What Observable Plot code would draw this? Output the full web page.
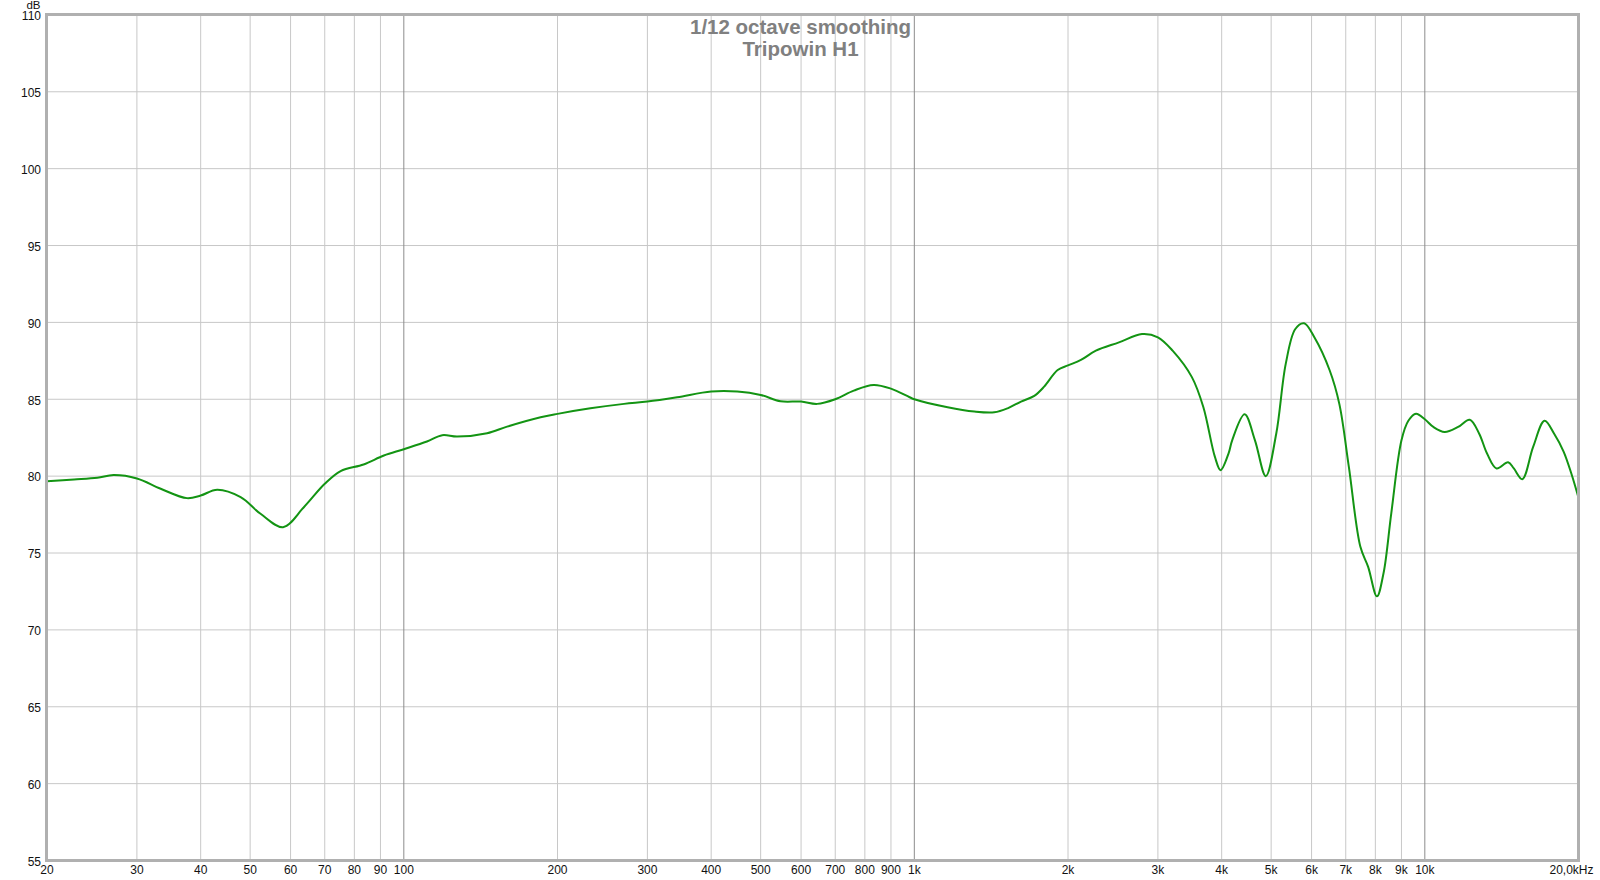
<!DOCTYPE html>
<html>
<head>
<meta charset="utf-8">
<script src="https://cdn.jsdelivr.net/npm/d3@7"></script>
<script src="https://cdn.jsdelivr.net/npm/@observablehq/plot@0.6"></script>
<style>
  html, body { margin: 0; padding: 0; background: #fff; }
  #chart svg { display: block; }
</style>
</head>
<body>
<div id="chart"></div>
<script>
// ---- Data ----
const titleLines = ["1/12 octave smoothing", "Tripowin H1"];
const yUnit = "dB";

const freqs = [20, 22.6, 25.1, 27.0, 30, 33.4, 37.6, 40, 43.1, 47.9, 52.4, 58.0, 63.7, 70, 75.2, 83.4, 91.4,
  100, 111, 118.9, 127.2, 145.6, 159.3, 185.3, 200, 232, 270, 300, 343, 400, 450, 500, 547, 600, 645, 700, 761, 832, 900, 979,
  1000, 1162, 1311, 1434, 1523, 1618, 1718, 1796, 1909, 2000, 2120, 2268, 2517, 2792, 3000, 3206, 3497, 3682, 3880, 3980, 4128, 4194,
  4436, 4648, 4880, 5116, 5340, 5576, 5801, 6076, 6512, 6800, 7099, 7478, 7744, 8058, 8302, 8597, 9000, 9284, 9610,
  10000, 10392, 10936, 11620, 12246, 12780, 13240, 13820, 14560, 14940, 15520, 16300, 17160, 17920, 18700, 19350, 20000];
const spl = [79.67, 79.78, 79.89, 80.07, 79.85, 79.18, 78.57, 78.74, 79.11, 78.63, 77.55, 76.68, 77.98, 79.5, 80.33, 80.76, 81.34,
  81.75, 82.25, 82.66, 82.57, 82.79, 83.22, 83.83, 84.05, 84.41, 84.70, 84.85, 85.13, 85.5, 85.5, 85.28, 84.87, 84.85, 84.70, 85.0, 85.56, 85.93, 85.69, 85.13,
  85.0, 84.48, 84.2, 84.15, 84.41, 84.85, 85.22, 85.82, 86.9, 87.2, 87.56, 88.16, 88.7, 89.24, 89.03, 88.16, 86.44, 84.5, 81.25, 80.39, 81.5, 82.33,
  84.02, 82.33, 80.0, 82.76, 87.3, 89.57, 89.94, 89.03, 86.87, 84.7, 80.6, 75.4, 74.1, 72.18, 73.7, 77.6, 82.33, 83.6, 84.06,
  83.7, 83.2, 82.87, 83.2, 83.67, 82.76, 81.47, 80.5, 80.9, 80.5, 79.8, 81.9, 83.6, 82.76, 81.6, 80.2, 78.6];

const xTicks = [20, 30, 40, 50, 60, 70, 80, 90, 100, 200, 300, 400, 500, 600, 700, 800, 900,
  1000, 2000, 3000, 4000, 5000, 6000, 7000, 8000, 9000, 10000];
const xTickLabels = ["20", "30", "40", "50", "60", "70", "80", "90", "100", "200", "300", "400", "500", "600", "700", "800", "900",
  "1k", "2k", "3k", "4k", "5k", "6k", "7k", "8k", "9k", "10k"];
const xEndTick = 20000;
const xEndLabel = "20,0kHz";
const decadeTicks = [100, 1000, 10000];
const yTicks = [55, 60, 65, 70, 75, 80, 85, 90, 95, 100, 105, 110];

// ---- Build ----
const data = freqs.map((f, i) => ({f, db: spl[i]}));
const lightGrid = xTicks.filter(t => t !== 20 && !decadeTicks.includes(t));

const chart = Plot.plot({
  width: 1600,
  height: 880,
  marginLeft: 46,
  marginRight: 22,
  marginTop: 14,
  marginBottom: 20,
  style: {fontFamily: "'Liberation Sans', Arial, sans-serif", fontSize: "12px", background: "#fff", color: "#111"},
  x: {type: "log", domain: [20, 20000], range: [46.5, 1578], axis: null},
  y: {domain: [55, 110], range: [860, 14.4], axis: null},
  marks: [
    Plot.ruleY(yTicks, {stroke: "#c8c8c8", strokeWidth: 1}),
    Plot.ruleX(lightGrid, {stroke: "#c8c8c8", strokeWidth: 1}),
    Plot.ruleX(decadeTicks, {stroke: "#8c8c8c", strokeWidth: 1}),
    Plot.text([titleLines[0]], {frameAnchor: "top", lineAnchor: "middle", dx: -12, dy: 12.5, fill: "#808080", fontWeight: "bold", fontSize: 20.5}),
    Plot.text([titleLines[1]], {frameAnchor: "top", lineAnchor: "middle", dx: -12, dy: 34.5, fill: "#808080", fontWeight: "bold", fontSize: 20.5}),
    Plot.line(data, {x: "f", y: "db", stroke: "#139413", strokeWidth: 2, curve: "catmull-rom"}),
    Plot.frame({stroke: "#b0b0b0", strokeWidth: 3}),
    Plot.text(yTicks, {x: 20, y: d => d, text: d => String(d), textAnchor: "end", lineAnchor: "middle", dx: -6, dy: 1.5, fill: "#111"}),
    Plot.text(xTicks, {x: d => d, y: 55, text: (d, i) => xTickLabels[i], lineAnchor: "top", dy: 5, fill: "#111"}),
    Plot.text([xEndTick], {x: d => d, y: 55, text: [xEndLabel], lineAnchor: "top", dy: 5, dx: -7, fill: "#111"}),
    Plot.text([yUnit], {frameAnchor: "top-left", lineAnchor: "top", textAnchor: "end", dx: -6, dy: -14, fontSize: 11.5, fill: "#111"})
  ]
});
document.getElementById("chart").appendChild(chart);
</script>
</body>
</html>
